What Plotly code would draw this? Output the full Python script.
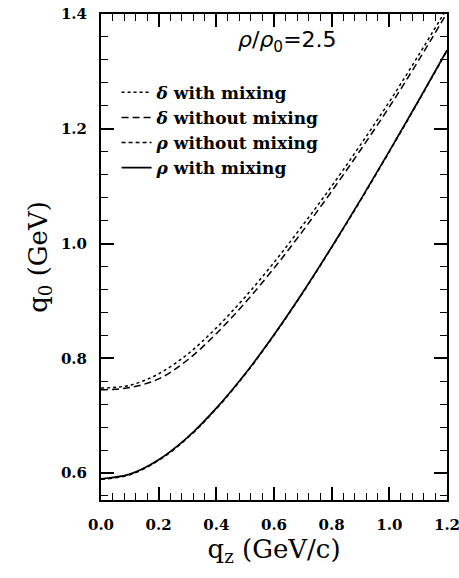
import plotly.graph_objects as go

qz = [0.0, 0.1, 0.2, 0.3, 0.4, 0.5, 0.6, 0.7, 0.8, 0.9, 1.0, 1.1, 1.2]
delta_with = [0.748, 0.753, 0.773, 0.807, 0.853, 0.907, 0.967, 1.032, 1.100, 1.172, 1.247, 1.327, 1.410]
delta_without = [0.745, 0.749, 0.764, 0.797, 0.843, 0.897, 0.957, 1.022, 1.091, 1.163, 1.238, 1.318, 1.402]
rho_without = [0.589, 0.597, 0.622, 0.661, 0.712, 0.772, 0.840, 0.914, 0.993, 1.075, 1.160, 1.247, 1.336]
rho_with = [0.590, 0.598, 0.623, 0.662, 0.713, 0.773, 0.841, 0.915, 0.994, 1.076, 1.161, 1.248, 1.337]

names = ["<i>δ</i> with mixing", "<i>δ</i> without mixing",
         "<i>ρ</i> without mixing", "<i>ρ</i> with mixing"]
series = [delta_with, delta_without, rho_without, rho_with]
dashes = ["dot", "7px,4px", "4px,3px", "solid"]
widths = [1.5, 1.5, 1.5, 1.7]

fig = go.Figure()
for n, s, d, w in zip(names, series, dashes, widths):
    fig.add_trace(go.Scatter(x=qz, y=s, mode="lines", name=n,
                             line=dict(color="black", dash=d, width=w, shape="spline")))

serif = "DejaVu Serif, Liberation Serif, serif"
axis_common = dict(
    showline=True, linecolor="black", linewidth=2, mirror="allticks",
    ticks="inside", ticklen=13, tickwidth=1.5, tickcolor="black",
    showgrid=False, zeroline=False, automargin=False,
    ticklabeloverflow="allow",
    tickfont=dict(family=serif, size=15, color="black", weight="bold"),
)
fig.update_xaxes(range=[0, 1.2], tickvals=[0, 0.2, 0.4, 0.6, 0.8, 1.0, 1.2],
                 ticktext=["0.0", "0.2", "0.4", "0.6", "0.8", "1.0", "1.2"],
                 ticklabelstandoff=10,
                 minor=dict(dtick=0.04, ticks="inside", ticklen=7, tickwidth=1.2, tickcolor="black"),
                 title=dict(text="q<sub>z</sub> (GeV/c)", font=dict(family=serif, size=26, color="black"), standoff=2),
                 **axis_common)
fig.update_yaxes(range=[0.553, 1.4], tickvals=[0.6, 0.8, 1.0, 1.2, 1.4],
                 ticktext=["0.6", "0.8", "1.0", "1.2", "1.4"],
                 ticklabelstandoff=9,
                 minor=dict(dtick=0.04, tick0=0.6, ticks="inside", ticklen=7, tickwidth=1.2, tickcolor="black"),
                 title=dict(text="q<sub>0</sub> (GeV)", font=dict(family=serif, size=26, color="black"), standoff=6),
                 **axis_common)

fig.add_annotation(x=0.54, y=0.944, xref="paper", yref="paper", showarrow=False,
                   text="<i>ρ</i>/<i>ρ</i><sub>0</sub>=2.5", xanchor="center", yanchor="middle",
                   font=dict(family="DejaVu Sans, Liberation Sans, sans-serif", size=22, color="black"))

fig.update_layout(
    width=459, height=578,
    margin=dict(l=101, r=12, t=14, b=78),
    paper_bgcolor="white", plot_bgcolor="white",
    showlegend=True,
    legend=dict(x=0.045, y=0.875, xanchor="left", yanchor="top",
                bgcolor="rgba(0,0,0,0)", tracegroupgap=0,
                font=dict(family=serif, size=17, color="black", weight="bold"),
                itemwidth=30),
)
fig.write_html("out.html")
